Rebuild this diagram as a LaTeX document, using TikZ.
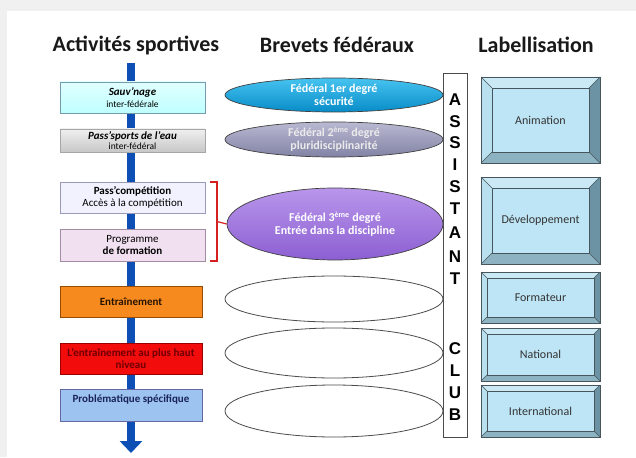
\documentclass[tikz,border=0pt]{standalone}
\usepackage{fontspec}
\setmainfont{Carlito}
\newfontfamily\letterfont{Liberation Sans}
\usetikzlibrary{arrows.meta,shapes.geometric}
\definecolor{arrowblue}{HTML}{0D4FB5}
\definecolor{bvtop}{HTML}{CBE9F5}
\definecolor{bvleft}{HTML}{B9E0EF}
\definecolor{bvbot}{HTML}{8DB3C2}
\definecolor{bvright}{HTML}{6C93A3}
\definecolor{bvin}{HTML}{BEE5F5}
\definecolor{bvline}{HTML}{46565C}
\definecolor{brk}{HTML}{D42020}
\tikzset{
  title/.style={font=\fontsize{22}{24}\selectfont\bfseries, text=black!90},
  lbox/.style={draw, minimum width=145, minimum height=31, align=center, inner sep=1pt, font=\fontsize{11}{12}\selectfont},
  ell/.style={ellipse, draw=black!75, line width=0.7pt, minimum width=218, inner sep=0pt, align=center, text=white, font=\fontsize{12}{13}\selectfont\bfseries},
  eell/.style={ellipse, draw=black!70, line width=0.8pt, minimum width=218, inner sep=0pt},
  letter/.style={font=\letterfont\fontsize{17}{17}\selectfont\bfseries},
  blabel/.style={font=\fontsize{12}{14}\selectfont, text=black!80}
}
\newcommand\subtxt{\fontsize{9.5}{11}\selectfont}
\newcommand\bevelbox[7]{%
  \fill[bvtop] (#2,#3) -- (#4,#3) -- ({#4-#6},{#3+#6}) -- ({#2+#6},{#3+#6}) -- cycle;
  \fill[bvleft] (#2,#3) -- ({#2+#6},{#3+#6}) -- ({#2+#6},{#5-#6}) -- (#2,#5) -- cycle;
  \fill[bvbot] (#2,#5) -- ({#2+#6},{#5-#6}) -- ({#4-#6},{#5-#6}) -- (#4,#5) -- cycle;
  \fill[bvright] (#4,#3) -- (#4,#5) -- ({#4-#6},{#5-#6}) -- ({#4-#6},{#3+#6}) -- cycle;
  \draw[bvline, line width=0.6pt, fill=bvin] ({#2+#6},{#3+#6}) rectangle ({#4-#6},{#5-#6});
  \draw[bvline, line width=0.6pt] (#2,#3) rectangle (#4,#5);
  \draw[bvline, line width=0.5pt] (#2,#3) -- ({#2+#6},{#3+#6}) (#4,#3) -- ({#4-#6},{#3+#6})
     (#2,#5) -- ({#2+#6},{#5-#6}) (#4,#5) -- ({#4-#6},{#5-#6});
  \node[blabel] (#1) at ({(#2+#4)/2},{(#3+#5)/2}) {#7};
}
\begin{document}
\begin{tikzpicture}[x=1pt,y=-1pt]
\useasboundingbox (0,0) rectangle (636,457);
\fill[black!6] (0,0) rectangle (636,457);
\fill[white] (7,11) rectangle (636,457);

% titles
\node[title] (t1) at (136,45) {Activités sportives};
\node[title] (t2) at (337,45) {Brevets fédéraux};
\node[title] (t3) at (536,45) {Labellisation};

% main arrow
\coordinate (atop) at (131,63);
\coordinate (abot) at (131,453);
\draw[arrowblue, line width=8pt, -{Triangle[width=22pt,length=12pt]}] (atop) -- (abot);

% left boxes
\node[lbox, draw=cyan!50!black!70, top color=white!40!cyan!20, bottom color=cyan!25] (b1) at (132.5,97.5)
  {\textbf{\textit{Sauv'nage}}\\{\subtxt inter-fédérale}};
\node[lbox, minimum height=23, draw=black!35, top color=black!6, bottom color=black!22, font=\fontsize{11}{10.5}\selectfont] (b2) at (132.5,140.5)
  {\textbf{\textit{Pass'sports de l'eau}}\\{\subtxt inter-fédéral}};
\node[lbox, draw=blue!30!black!40, fill=blue!5] (b3) at (132.5,197.5)
  {\textbf{Pass'compétition}\\Accès à la compétition};
\node[lbox, minimum height=32, draw=violet!40!black!45, fill=violet!12] (b4) at (132.5,245)
  {Programme\\\textbf{de formation}};
\node[lbox, minimum width=142, draw=orange!60!black, fill={rgb,255:red,247;green,138;blue,30}, font=\fontsize{11}{12}\selectfont\bfseries, text=black!85!orange] (b5) at (131,301.5)
  {Entraînement};
\node[lbox, minimum width=142, draw=red!60!black, fill={rgb,255:red,242;green,12;blue,12}, font=\fontsize{11}{12}\selectfont\bfseries, text={rgb,255:red,110;green,0;blue,0}] (b6) at (131,358.5)
  {L'entraînement au plus haut\\niveau};
\node[lbox, minimum width=142, minimum height=32, draw=blue!40!black!60, fill={rgb,255:red,157;green,195;blue,240}] (b7) at (131,405) {};
\node[font=\fontsize{11}{12}\selectfont\bfseries, text={rgb,255:red,25;green,35;blue,90}] (b7t) at (131,399) {Problématique spécifique};

% ellipses
\node[ell, minimum height=34, top color={rgb,255:red,70;green,195;blue,240}, bottom color={rgb,255:red,8;green,140;blue,200}] (e1) at (334,95)
  {Fédéral 1er degré\\sécurité};
\node[ell, minimum height=35, top color={rgb,255:red,185;green,185;blue,210}, bottom color={rgb,255:red,130;green,130;blue,165}, text=white!92!black] (e2) at (334,139.5)
  {Fédéral 2\textsuperscript{ème} degré\\pluridisciplinarité};
\node[ell, minimum width=216, minimum height=72, top color={rgb,255:red,185;green,150;blue,235}, bottom color={rgb,255:red,140;green,95;blue,210}] (e3) at (335,224)
  {Fédéral 3\textsuperscript{ème} degré\\Entrée dans la discipline};
\node[eell, minimum height=46] (e4) at (334,299) {};
\node[eell, minimum height=50] (e5) at (334,353) {};
\node[eell, minimum height=52] (e6) at (334,411) {};

% bracket
\coordinate (bk1) at (210,182);
\coordinate (bk2) at (210,261);
\coordinate (bkm) at (217,221.5);
\draw[brk, line width=1.2pt] (bk1) -- ++(7,0) -- ++(0,79) -- (bk2);
\draw[brk, line width=1.2pt] (bkm) -- (e3.west);

% assistant club column
\node[draw=black!70, fill=white, line width=0.7pt, minimum width=24, minimum height=364, inner sep=0pt] (club) at (455,255) {};
\node[letter] (l1) at (455,100) {A};
\node[letter] (l2) at (455,122) {S};
\node[letter] (l3) at (455,143) {S};
\node[letter] (l4) at (455,165) {I};
\node[letter] (l5) at (455,187) {S};
\node[letter] (l6) at (455,209) {T};
\node[letter] (l7) at (455,233) {A};
\node[letter] (l8) at (455,257) {N};
\node[letter] (l9) at (455,279) {T};
\node[letter] (m1) at (455,349) {C};
\node[letter] (m2) at (455,371) {L};
\node[letter] (m3) at (455,393) {U};
\node[letter] (m4) at (455,415) {B};

% labellisation boxes
\bevelbox{r1}{481}{77}{600}{163}{11}{Animation}
\bevelbox{r2}{481}{177}{600}{264}{11}{Développement}
\bevelbox{r3}{481}{272}{600}{323}{6}{Formateur}
\bevelbox{r4}{481}{328}{600}{381}{6}{National}
\bevelbox{r5}{481}{385}{600}{437}{6}{International}
\end{tikzpicture}
\end{document}
